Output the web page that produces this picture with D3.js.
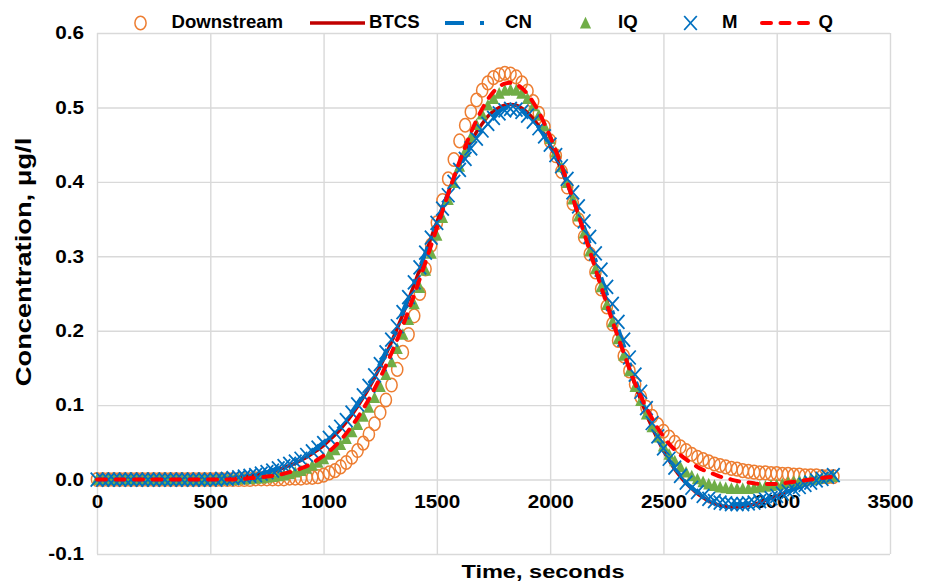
<!DOCTYPE html>
<html lang="en">
<head>
<meta charset="UTF-8">
<title>Concentration vs time</title>
<style>
  body{margin:0;background:#fff;}
  svg{display:block;font-family:"Liberation Sans",Arial,sans-serif;font-weight:bold;}
  .grid line{stroke:#d9d9d9;stroke-width:1.4px;}
  .grid path{display:none;}
  .lab path{display:none;}
  .lab text{fill:#000;font-size:18px;font-weight:bold;}
</style>
</head>
<body>
<svg id="chart" width="931" height="586"></svg>
<script src="https://d3js.org/d3.v7.min.js"></script>
<script>
// sample times (s)
var times = [
  0,25,50,75,100,125,150,175,200,225,
  250,275,300,325,350,375,400,425,450,475,
  500,525,550,575,600,625,650,675,700,725,
  750,775,800,825,850,875,900,925,950,975,
  1000,1025,1050,1075,1100,1125,1150,1175,1200,1225,
  1250,1275,1300,1325,1350,1375,1400,1425,1450,1475,
  1500,1525,1550,1575,1600,1625,1650,1675,1700,1725,
  1750,1775,1800,1825,1850,1875,1900,1925,1950,1975,
  2000,2025,2050,2075,2100,2125,2150,2175,2200,2225,
  2250,2275,2300,2325,2350,2375,2400,2425,2450,2475,
  2500,2525,2550,2575,2600,2625,2650,2675,2700,2725,
  2750,2775,2800,2825,2850,2875,2900,2925,2950,2975,
  3000,3025,3050,3075,3100,3125,3150,3175,3200,3225,
  3250
];

var downstream = [
  0,0,0,0,0,0,0,0,0,0,
  0,0,0,0,0,0,0,0,0,0,
  0,0,0,0,0,0,0,0,0.001,0.001,
  0.001,0.001,0.001,0.001,0.002,0.002,0.002,0.003,0.003,0.004,
  0.006,0.009,0.012,0.017,0.023,0.030,0.039,0.049,0.061,0.075,
  0.090,0.107,0.127,0.148,0.171,0.195,0.220,0.250,0.283,0.315,
  0.345,0.375,0.404,0.430,0.455,0.476,0.494,0.510,0.523,0.533,
  0.540,0.544,0.546,0.545,0.541,0.533,0.522,0.508,0.492,0.474,
  0.455,0.435,0.414,0.393,0.371,0.349,0.326,0.303,0.279,0.256,
  0.232,0.209,0.187,0.166,0.146,0.128,0.111,0.097,0.085,0.074,
  0.065,0.057,0.050,0.044,0.039,0.034,0.030,0.027,0.024,0.021,
  0.019,0.017,0.015,0.014,0.012,0.011,0.010,0.009,0.009,0.008,
  0.008,0.007,0.007,0.006,0.006,0.005,0.005,0.005,0.004,0.004,
  0.004
];

var btcs = [
  0,0,0,0,0,0,0,0,0,0,
  0,0,0,0,0,0,0,0,0,0,
  0,0.001,0.001,0.002,0.002,0.003,0.004,0.005,0.006,0.007,
  0.009,0.011,0.013,0.016,0.019,0.022,0.026,0.030,0.035,0.040,
  0.046,0.053,0.060,0.068,0.077,0.087,0.098,0.110,0.123,0.137,
  0.152,0.168,0.185,0.203,0.222,0.242,0.262,0.283,0.304,0.325,
  0.346,0.366,0.386,0.405,0.423,0.439,0.454,0.467,0.478,0.488,
  0.495,0.500,0.503,0.504,0.503,0.499,0.493,0.485,0.475,0.463,
  0.449,0.433,0.416,0.397,0.377,0.356,0.334,0.311,0.288,0.264,
  0.240,0.216,0.193,0.170,0.148,0.127,0.107,0.088,0.070,0.054,
  0.039,0.026,0.014,0.004,-0.005,-0.012,-0.019,-0.024,-0.029,-0.032,
  -0.035,-0.036,-0.037,-0.037,-0.036,-0.035,-0.033,-0.031,-0.028,-0.025,
  -0.022,-0.019,-0.016,-0.013,-0.010,-0.007,-0.004,-0.001,0.001,0.003,
  0.005
];

var cn = [
  0,0,0,0,0,0,0,0,0,0,
  0,0,0,0,0,0,0,0,0,0,
  0.001,0.001,0.001,0.002,0.002,0.003,0.004,0.005,0.007,0.008,
  0.010,0.013,0.015,0.018,0.021,0.025,0.029,0.033,0.038,0.044,
  0.050,0.057,0.064,0.072,0.081,0.091,0.102,0.114,0.127,0.141,
  0.156,0.172,0.189,0.207,0.226,0.245,0.265,0.285,0.305,0.325,
  0.345,0.365,0.384,0.402,0.419,0.434,0.448,0.461,0.472,0.481,
  0.489,0.495,0.499,0.500,0.499,0.496,0.490,0.482,0.473,0.461,
  0.448,0.433,0.417,0.399,0.380,0.360,0.339,0.317,0.295,0.272,
  0.249,0.226,0.203,0.180,0.157,0.135,0.114,0.094,0.075,0.058,
  0.042,0.028,0.016,0.005,-0.004,-0.011,-0.017,-0.022,-0.026,-0.029,
  -0.031,-0.032,-0.033,-0.033,-0.033,-0.032,-0.031,-0.029,-0.027,-0.025,
  -0.022,-0.019,-0.016,-0.013,-0.010,-0.007,-0.004,-0.001,0.001,0.004,
  0.006
];

var iq = [
  0,0,0,0,0,0,0,0,0,0,
  0,0,0,0,0,0,0,0,0,0,
  0,0,0,0,0,0.001,0.001,0.001,0.002,0.002,
  0.003,0.004,0.005,0.006,0.008,0.010,0.012,0.015,0.019,0.023,
  0.028,0.034,0.040,0.047,0.055,0.064,0.074,0.085,0.097,0.110,
  0.125,0.141,0.158,0.176,0.195,0.215,0.236,0.258,0.281,0.304,
  0.328,0.352,0.376,0.399,0.421,0.441,0.460,0.477,0.491,0.503,
  0.512,0.519,0.523,0.524,0.523,0.519,0.512,0.502,0.490,0.475,
  0.458,0.440,0.420,0.399,0.377,0.354,0.331,0.307,0.283,0.259,
  0.235,0.212,0.189,0.167,0.146,0.125,0.106,0.088,0.071,0.057,
  0.045,0.034,0.025,0.017,0.010,0.005,0.001,-0.003,-0.006,-0.008,
  -0.010,-0.011,-0.012,-0.012,-0.012,-0.012,-0.011,-0.010,-0.009,-0.008,
  -0.007,-0.006,-0.004,-0.003,-0.002,-0.001,0.000,0.001,0.002,0.003,
  0.004
];

var mSeries = [
  0,0,0,0,0,0,0,0,0,0,
  0,0,0,0,0,0,0,0,0,0,
  0,0,0.001,0.001,0.002,0.003,0.004,0.005,0.006,0.008,
  0.010,0.012,0.015,0.018,0.021,0.024,0.028,0.033,0.038,0.043,
  0.049,0.056,0.063,0.071,0.080,0.090,0.101,0.113,0.126,0.140,
  0.155,0.171,0.188,0.206,0.225,0.245,0.265,0.285,0.305,0.325,
  0.345,0.364,0.382,0.400,0.416,0.431,0.445,0.458,0.469,0.478,
  0.486,0.492,0.496,0.498,0.497,0.494,0.489,0.481,0.472,0.461,
  0.450,0.436,0.421,0.404,0.386,0.367,0.347,0.326,0.304,0.282,
  0.259,0.236,0.212,0.188,0.164,0.141,0.118,0.096,0.076,0.058,
  0.042,0.028,0.016,0.005,-0.004,-0.011,-0.017,-0.022,-0.026,-0.029,
  -0.031,-0.032,-0.033,-0.033,-0.033,-0.032,-0.031,-0.029,-0.027,-0.025,
  -0.022,-0.019,-0.016,-0.013,-0.010,-0.007,-0.004,-0.001,0.001,0.004,
  0.006
];

var qSeries = [
  0,0,0,0,0,0,0,0,0,0,
  0,0,0,0,0,0,0,0,0,0,
  0,0,0,0,0,0.001,0.001,0.002,0.002,0.003,
  0.004,0.005,0.006,0.008,0.010,0.012,0.015,0.018,0.022,0.027,
  0.032,0.038,0.045,0.053,0.062,0.072,0.083,0.095,0.108,0.122,
  0.137,0.153,0.170,0.188,0.207,0.227,0.248,0.270,0.292,0.315,
  0.338,0.361,0.384,0.406,0.427,0.447,0.466,0.483,0.498,0.511,
  0.521,0.528,0.532,0.533,0.531,0.526,0.518,0.507,0.494,0.478,
  0.461,0.442,0.422,0.400,0.378,0.355,0.331,0.307,0.283,0.259,
  0.236,0.213,0.191,0.170,0.149,0.129,0.112,0.096,0.082,0.069,
  0.058,0.048,0.040,0.033,0.027,0.022,0.017,0.013,0.010,0.007,
  0.004,0.002,0.000,-0.002,-0.003,-0.004,-0.005,-0.006,-0.006,-0.006,
  -0.006,-0.005,-0.004,-0.003,-0.002,-0.001,0.000,0.001,0.002,0.003,
  0.004
];

var xTicks = [0,500,1000,1500,2000,2500,3000,3500];
var yTicks = [-0.1,0,0.1,0.2,0.3,0.4,0.5,0.6];

var series = [
  {name:'Downstream', values:downstream, kind:'circle', color:'#ED7D31'},
  {name:'BTCS', values:btcs, kind:'line', color:'#C00000', width:3.5, dash:null, cap:'butt'},
  {name:'CN', values:cn, kind:'line', color:'#0070C0', width:4, dash:'19,16,4,16', cap:'butt'},
  {name:'IQ', values:iq, kind:'triangle', color:'#70AD47'},
  {name:'M', values:mSeries, kind:'cross', color:'#0070C0'},
  {name:'Q', values:qSeries, kind:'line', color:'#FF0000', width:4, dash:'9,9.5', cap:'round'}
];

var svg = d3.select('#chart');
var x = d3.scaleLinear().domain([0,3500]).range([97,890]);
var y = d3.scaleLinear().domain([-0.1,0.6]).range([554,33]);
var SX = 1.15; // text in the picture is drawn a bit wide

// grid
svg.append('g').attr('class','grid')
  .attr('transform','translate(0,554)')
  .call(d3.axisBottom(x).tickValues(xTicks).tickSize(-(554-33)).tickFormat(''));
svg.append('g').attr('class','grid')
  .attr('transform','translate(97,0)')
  .call(d3.axisLeft(y).tickValues(yTicks).tickSize(-(890-97)).tickFormat(''));

// tick labels
var yl = svg.append('g').attr('class','lab')
  .attr('transform','translate(84,0)')
  .call(d3.axisLeft(y).tickValues(yTicks).tickSize(0).tickPadding(0).tickFormat(function(d){return d.toFixed(1);}));
yl.selectAll('text').attr('transform','scale('+SX+',1)');

var xl = svg.append('g').attr('class','lab')
  .attr('transform','translate(0,'+y(0)+')')
  .call(d3.axisBottom(x).tickValues(xTicks).tickSize(0).tickPadding(16).tickFormat(function(d){return d;}));
xl.selectAll('text').attr('transform','scale('+SX+',1)');

// axis titles
svg.append('text')
  .attr('transform','translate(543,578) scale(1.24,1)')
  .attr('text-anchor','middle')
  .style('font-size','19px')
  .text('Time, seconds');
svg.append('text')
  .attr('transform','translate(31,262) rotate(-90) scale(1.24,1)')
  .attr('text-anchor','middle')
  .style('font-size','22px')
  .text('Concentration, \u03bcg/l');

// marker shapes
function drawMarker(g, kind, color){
  if(kind==='circle'){
    g.append('ellipse').attr('rx',5.6).attr('ry',6.8)
      .attr('fill','none').attr('stroke',color).attr('stroke-width',1.5);
  } else if(kind==='triangle'){
    g.append('path').attr('d','M0,-6.2L5.6,5.4L-5.6,5.4Z').attr('fill',color);
  } else if(kind==='cross'){
    g.append('path').attr('d','M-6.3,-7L6.3,7M-6.3,7L6.3,-7')
      .attr('fill','none').attr('stroke',color).attr('stroke-width',1.8);
  }
}

var plot = svg.append('g');
series.forEach(function(s){
  if(s.kind==='line'){
    var line = d3.line()
      .x(function(d,i){return x(times[i]);})
      .y(function(d){return y(d);})
      .curve(d3.curveMonotoneX);
    plot.append('path')
      .datum(s.values)
      .attr('d',line)
      .attr('fill','none')
      .attr('stroke',s.color)
      .attr('stroke-width',s.width)
      .attr('stroke-linecap',s.cap)
      .attr('stroke-dasharray',s.dash);
  } else {
    plot.append('g').selectAll('g')
      .data(s.values)
      .enter().append('g')
        .attr('transform',function(d,i){return 'translate('+x(times[i])+','+y(d)+')';})
        .each(function(){ drawMarker(d3.select(this), s.kind, s.color); });
  }
});

// legend
var legendPos = [
  {sym:[113,168], text:171.5},
  {sym:[310,365], text:369},
  {sym:[445,500], text:505},
  {sym:[558,613], text:618},
  {sym:[663,718], text:722},
  {sym:[762,815], text:818.5}
];
var leg = svg.append('g');
series.forEach(function(s,i){
  var p = legendPos[i];
  if(s.kind==='line'){
    leg.append('line')
      .attr('x1',p.sym[0]).attr('x2',p.sym[1]).attr('y1',23).attr('y2',23)
      .attr('stroke',s.color).attr('stroke-width',s.width)
      .attr('stroke-linecap',s.cap).attr('stroke-dasharray',s.dash);
  } else {
    var g = leg.append('g').attr('transform','translate('+((p.sym[0]+p.sym[1])/2)+',23)');
    drawMarker(g, s.kind, s.color);
  }
  leg.append('text')
    .attr('x',p.text).attr('y',28.3)
    .style('font-size','18.6px')
    .text(s.name);
});
</script>
</body>
</html>
